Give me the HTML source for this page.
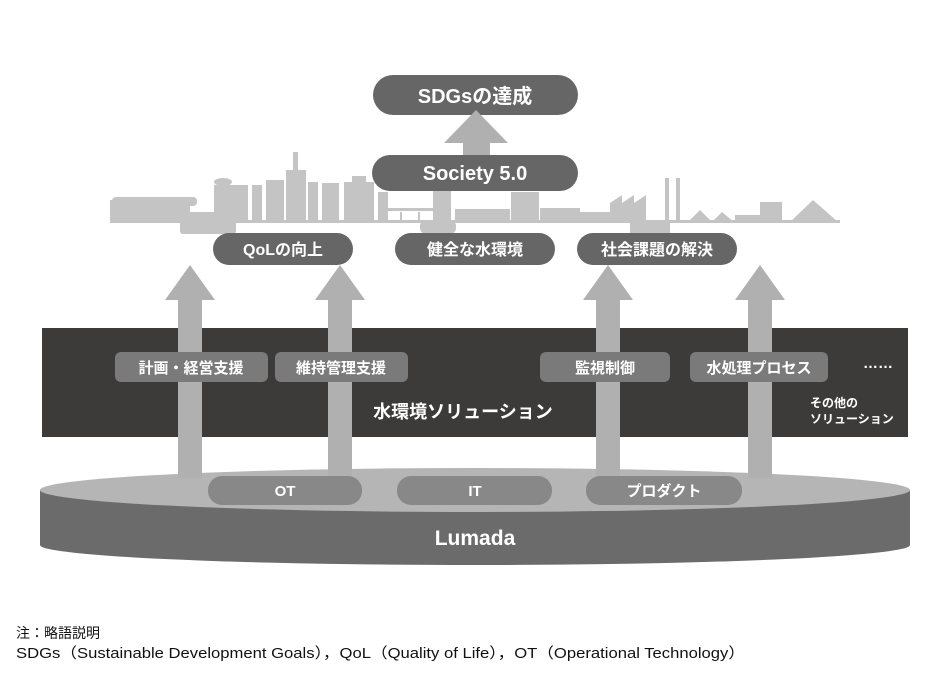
<!DOCTYPE html>
<html><head><meta charset="utf-8"><style>
html,body{margin:0;padding:0;background:#fff;width:950px;height:677px;overflow:hidden}
svg text{font-family:"Liberation Sans","Noto Sans CJK JP",sans-serif}
</style></head><body>
<svg width="950" height="677" viewBox="0 0 950 677" xmlns="http://www.w3.org/2000/svg">
<g fill="#c4c4c4">
<rect x="110" y="200" width="80" height="22"/>
<rect x="112" y="197" width="85" height="9" rx="4"/>
<rect x="180" y="212" width="56" height="22" rx="3"/>
<rect x="214" y="185" width="34" height="37"/>
<ellipse cx="223" cy="182" rx="9" ry="4"/>
<rect x="252" y="185" width="10" height="37"/>
<rect x="266" y="180" width="18" height="42"/>
<rect x="286" y="170" width="20" height="52"/>
<rect x="293" y="152" width="5" height="20"/>
<rect x="308" y="182" width="10" height="40"/>
<rect x="322" y="183" width="17" height="39"/>
<rect x="344" y="182" width="30" height="40"/>
<rect x="352" y="176" width="14" height="8"/>
<rect x="378" y="192" width="10" height="30"/>
<rect x="388" y="208" width="45" height="3"/>
<rect x="400" y="212" width="2" height="10"/>
<rect x="418" y="212" width="2" height="10"/>
<rect x="433" y="190" width="18" height="32"/>
<rect x="420" y="220" width="36" height="14" rx="6"/>
<rect x="455" y="209" width="55" height="13"/>
<rect x="511" y="192" width="28" height="30"/>
<rect x="540" y="208" width="40" height="14"/>
<rect x="580" y="212" width="30" height="10"/>
<polygon points="610,222 610,203 622,195 622,203 634,195 634,203 646,195 646,222"/>
<rect x="665" y="178" width="4" height="44"/>
<rect x="676" y="178" width="4" height="44"/>
<rect x="630" y="222" width="40" height="12"/>
<polygon points="688,222 700,210 712,222 722,212 734,222"/>
<rect x="735" y="215" width="40" height="7"/>
<rect x="760" y="202" width="22" height="20"/>
<polygon points="790,222 813,200 838,222"/>
<rect x="110" y="220" width="730" height="3"/>
</g>
<rect x="373" y="75" width="205" height="40" rx="20" fill="#666"/>
<text x="475" y="103" font-size="20" font-weight="bold" fill="#fff" text-anchor="middle">SDGsの達成</text>
<polygon points="476,110 508,143 490,143 490,158 463,158 463,143 444,143" fill="#b0b0b0"/>
<rect x="372" y="155" width="206" height="36" rx="18" fill="#666"/>
<text x="475" y="180" font-size="20" font-weight="bold" fill="#fff" text-anchor="middle">Society 5.0</text>
<g font-size="16" font-weight="bold" fill="#fff" text-anchor="middle">
<rect x="213" y="233" width="140" height="32" rx="16" fill="#666"/>
<text x="283" y="255">QoLの向上</text>
<rect x="395" y="233" width="160" height="32" rx="16" fill="#666"/>
<text x="475" y="255">健全な水環境</text>
<rect x="577" y="233" width="160" height="32" rx="16" fill="#666"/>
<text x="657" y="255">社会課題の解決</text>
</g>
<rect x="42" y="328" width="866" height="109" fill="#3d3a3a"/>
<path d="M40,490 L40,545 A435,20 0 0 0 910,545 L910,490 Z" fill="#6b6b6b"/>
<ellipse cx="475" cy="490" rx="435" ry="22" fill="#b5b5b5"/>
<g fill="#b0b0b0">
<polygon points="190,265 215,300 202,300 202,478 178,478 178,300 165,300"/>
<polygon points="340,265 365,300 352,300 352,478 328,478 328,300 315,300"/>
<polygon points="608,265 633,300 620,300 620,478 596,478 596,300 583,300"/>
<polygon points="760,265 785,300 772,300 772,478 748,478 748,300 735,300"/>
</g>
<g fill="#7a7a7a">
<rect x="115" y="352" width="153" height="30" rx="6"/>
<rect x="275" y="352" width="133" height="30" rx="6"/>
<rect x="540" y="352" width="130" height="30" rx="6"/>
<rect x="690" y="352" width="138" height="30" rx="6"/>
</g>
<g fill="#fff" font-size="15" font-weight="bold" text-anchor="middle">
<text x="191" y="373">計画・経営支援</text>
<text x="341" y="373">維持管理支援</text>
<text x="605" y="373">監視制御</text>
<text x="759" y="373">水処理プロセス</text>
<text x="878" y="368">……</text>
<text x="463" y="418" font-size="18">水環境ソリューション</text>
<text x="810" y="407" font-size="12" text-anchor="start">その他の</text>
<text x="810" y="423" font-size="12" text-anchor="start">ソリューション</text>
</g>
<g fill="#888">
<rect x="208" y="476" width="154" height="29" rx="14"/>
<rect x="397" y="476" width="155" height="29" rx="14"/>
<rect x="586" y="476" width="156" height="29" rx="14"/>
</g>
<g fill="#fff" font-size="15" font-weight="bold" text-anchor="middle">
<text x="285" y="496">OT</text>
<text x="475" y="496">IT</text>
<text x="664" y="496">プロダクト</text>
<text x="475" y="545" font-size="21">Lumada</text>
</g>
<text x="16" y="638" font-size="14" fill="#111">注：略語説明</text>
<text x="16" y="658" font-size="15" fill="#111" textLength="729" lengthAdjust="spacingAndGlyphs">SDGs（Sustainable Development Goals），QoL（Quality of Life），OT（Operational Technology）</text>
</svg>
</body></html>
